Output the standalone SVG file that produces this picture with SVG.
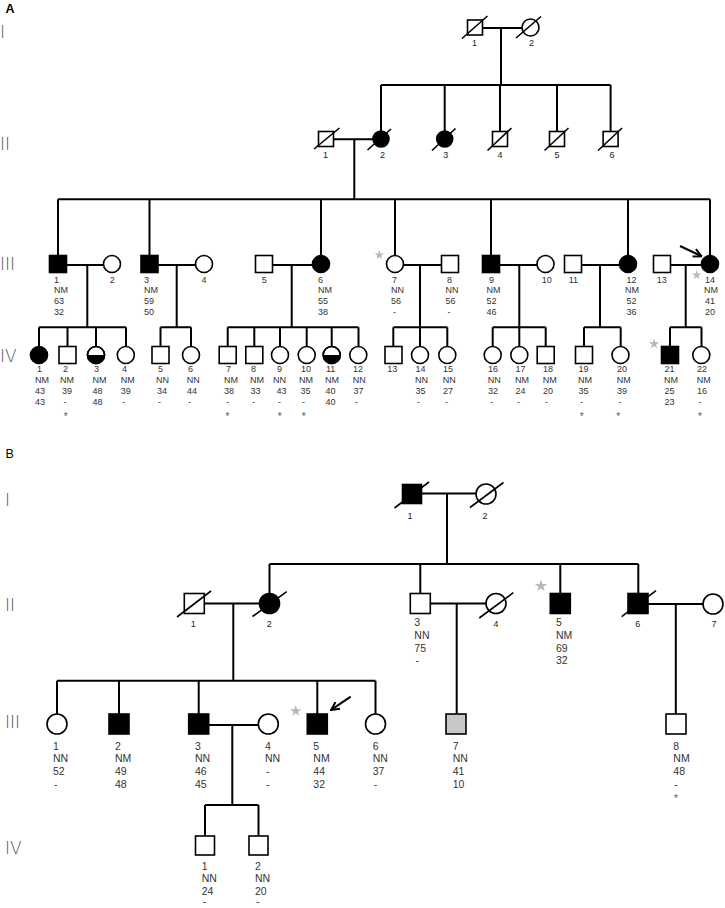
<svg xmlns="http://www.w3.org/2000/svg" width="725" height="908" viewBox="0 0 725 908">
<style>
.l{fill:none;stroke:#000;stroke-width:2}
.s{fill:#fff;stroke:#000;stroke-width:1.6}
.f{fill:#000;stroke:#000;stroke-width:1.6}
.o{fill:none;stroke:#000;stroke-width:1.6}
.g{fill:#c8c8c8;stroke:#000;stroke-width:1.6}
.d{stroke:#000;stroke-width:1.6}
.ta{font-family:"Liberation Sans",Arial,sans-serif;font-size:9px;fill:#333}
.tb{font-family:"Liberation Sans",Arial,sans-serif;font-size:10.5px;fill:#333}
.c{text-anchor:middle}
.tn{font-family:"Liberation Sans Narrow","Liberation Sans",Arial,sans-serif;font-size:9px;fill:#222;text-anchor:middle}
.rn{font-family:"DejaVu Sans",sans-serif;font-weight:200;font-size:17px;fill:#555}
.st{fill:#b8b8b8}
.as{font-family:"Liberation Sans",Arial,sans-serif;font-size:10px;fill:#555;text-anchor:middle}
.pl{font-family:"Liberation Sans",Arial,sans-serif;font-size:12.5px;fill:#000}
</style>
<defs>
<polygon id="star" points="0,-1 0.2245,-0.309 0.951,-0.309 0.363,0.118 0.588,0.809 0,0.382 -0.588,0.809 -0.363,0.118 -0.951,-0.309 -0.2245,-0.309"/>
<marker id="ah" viewBox="0 0 10 10" refX="8.5" refY="5" markerWidth="5" markerHeight="5" orient="auto" markerUnits="strokeWidth">
<path d="M1,1 L9,5 L1,9" fill="none" stroke="#000" stroke-width="2"/>
</marker>
</defs>
<rect width="725" height="908" fill="#fff"/>

<!-- panel labels and generation numerals -->
<g id="labels">
<text class="pl" x="5.5" y="12.5" font-weight="bold">A</text>
<text class="pl" x="5.5" y="458">B</text>
<text class="rn" x="0" y="37.5">I</text>
<text class="rn" x="0" y="150">II</text>
<text class="rn" x="0" y="270">III</text>
<text class="rn" x="0" y="362">IV</text>
<text class="rn" x="5" y="505.5">I</text>
<text class="rn" x="5" y="610.5">II</text>
<text class="rn" x="5" y="728">III</text>
<text class="rn" x="5" y="854">IV</text>
</g>

<g id="connectors" class="l">
<!-- Panel A -->
<path d="M482,28 H522 M501,28 V85 M381,85 H610.6 M381,85 V131 M444.7,85 V131 M500,85 V131.5 M557,85 V131.5 M610.6,85 V131.5"/>
<path d="M333.5,139.3 H373 M354.3,139.3 V199.3 M58,199.3 H710 M58,199.3 V255.5 M149.5,199.3 V255.5 M321,199.3 V255.5 M395,199.3 V255.5 M491,199.3 V255.5 M628,199.3 V255.5 M710,199.3 V255.5"/>
<path d="M66.5,265 H103.5 M87.3,265 V327.3 M158,265 H195.5 M176.7,265 V327.3 M272.5,265 H312.5 M291.7,265 V327.3 M403.5,265 H441.5 M420,265 V327.3 M499.5,265 H537 M519.3,265 V327.3 M581.5,265 H619.5 M600,265 V327.3 M670.5,265 H701.5 M685.7,265 V327.3"/>
<path d="M39,327.3 H126 M39,327.3 V346.5 M67.5,327.3 V346.5 M96,327.3 V346.5 M126,327.3 V346.5"/>
<path d="M160.5,327.3 H191 M160.5,327.3 V346.5 M191,327.3 V346.5"/>
<path d="M227.7,327.3 H358.5 M227.7,327.3 V346.5 M254.3,327.3 V346.5 M280,327.3 V346.5 M306.7,327.3 V346.5 M331.7,327.3 V346.5 M358.5,327.3 V346.5"/>
<path d="M393.3,327.3 H447.3 M393.3,327.3 V346.5 M420,327.3 V346.5 M447.3,327.3 V346.5"/>
<path d="M492.7,327.3 H545.7 M492.7,327.3 V346.5 M519.3,327.3 V346.5 M545.7,327.3 V346.5"/>
<path d="M584,327.3 H620.7 M584,327.3 V346.5 M620.7,327.3 V346.5"/>
<path d="M670,327.3 H701.5 M670,327.3 V346.5 M701.5,327.3 V346.5"/>
<path d="M680,246 L701,256" marker-end="url(#ah)"/>
<!-- Panel B -->
<path d="M421.5,493.5 H476 M447,493.5 V564 M269.5,564 H638.3 M269.5,564 V593.5 M420.3,564 V593.5 M560.3,564 V593.5 M638.3,564 V593.5"/>
<path d="M204.3,603.5 H259.5 M233.3,603.5 V680.7 M57,680.7 H375.5 M57,680.7 V714 M119,680.7 V714 M198.7,680.7 V714 M317.3,680.7 V714 M375.5,680.7 V714"/>
<path d="M430.3,603.5 H486 M456.7,603.5 V714 M648,604 H703 M675.8,604 V714"/>
<path d="M208.7,725 H258.3 M232.3,725 V805 M205,805 H258.5 M205,805 V836 M258.5,805 V836"/>
<path d="M350.7,696.7 L331.5,709.6" marker-end="url(#ah)"/>
</g>

<!-- Panel A generation I -->
<g id="A-I-1"><rect class="s" x="467.5" y="20" width="15" height="15"/><line class="d" x1="462" y1="38.5" x2="487.5" y2="16"/><text class="tn" x="474.5" y="45.5">1</text></g>
<g id="A-I-2"><circle class="s" cx="530.5" cy="27.5" r="8.5"/><line class="d" x1="516" y1="38" x2="541" y2="16.5"/><text class="tn" x="531.5" y="45.5">2</text></g>

<!-- Panel A generation II -->
<g id="A-II-1"><rect class="s" x="318.5" y="131.5" width="15" height="15"/><line class="d" x1="314" y1="149" x2="339.5" y2="128"/><text class="tn" x="325.6" y="158">1</text></g>
<g id="A-II-2"><circle class="f" cx="381" cy="139" r="8"/><line class="d" x1="367.5" y1="150" x2="391" y2="129"/><text class="tn" x="382.5" y="158">2</text></g>
<g id="A-II-3"><circle class="f" cx="444.7" cy="139" r="8"/><line class="d" x1="432" y1="150.5" x2="455.5" y2="128.5"/><text class="tn" x="445.7" y="158">3</text></g>
<g id="A-II-4"><rect class="s" x="492.5" y="131.5" width="15" height="15"/><line class="d" x1="487.5" y1="150.5" x2="511.5" y2="128"/><text class="tn" x="500" y="158">4</text></g>
<g id="A-II-5"><rect class="s" x="549.5" y="131.5" width="15" height="15"/><line class="d" x1="544.5" y1="150.5" x2="568.5" y2="128"/><text class="tn" x="557" y="158">5</text></g>
<g id="A-II-6"><rect class="s" x="603.1" y="131.5" width="15" height="15"/><line class="d" x1="598.1" y1="150.5" x2="622.1" y2="128"/><text class="tn" x="612" y="158">6</text></g>

<!-- Panel A generation III -->
<g id="A-III-1"><rect class="f" x="49.5" y="255.5" width="17" height="17"/><text class="ta"><tspan x="54" y="282.5">1</tspan><tspan x="54" y="293.3">NM</tspan><tspan x="54" y="304.1">63</tspan><tspan x="54" y="314.9">32</tspan></text></g>
<g id="A-III-2"><circle class="s" cx="112" cy="264" r="8.5"/><text class="ta c" x="112.3" y="282.5">2</text></g>
<g id="A-III-3"><rect class="f" x="141" y="255.5" width="17" height="17"/><text class="ta"><tspan x="144" y="282.5">3</tspan><tspan x="144" y="293.3">NM</tspan><tspan x="144" y="304.1">59</tspan><tspan x="144" y="314.9">50</tspan></text></g>
<g id="A-III-4"><circle class="s" cx="204" cy="264" r="8.5"/><text class="ta c" x="204" y="282.5">4</text></g>
<g id="A-III-5"><rect class="s" x="255.5" y="255.5" width="17" height="17"/><text class="ta c" x="264.3" y="282.5">5</text></g>
<g id="A-III-6"><circle class="f" cx="321" cy="264" r="8.5"/><text class="ta"><tspan x="318" y="282.5">6</tspan><tspan x="318" y="293.3">NM</tspan><tspan x="318" y="304.1">55</tspan><tspan x="318" y="314.9">38</tspan></text></g>
<g id="A-III-7"><use href="#star" class="st" transform="translate(379.3,255) scale(5)"/><circle class="s" cx="395" cy="264" r="8.5"/><text class="ta"><tspan x="392" y="282.5">7</tspan><tspan x="391" y="293.3">NN</tspan><tspan x="391" y="304.1">56</tspan><tspan x="393" y="314.9">-</tspan></text></g>
<g id="A-III-8"><rect class="s" x="441.5" y="255.5" width="17" height="17"/><text class="ta"><tspan x="447" y="282.5">8</tspan><tspan x="445.5" y="293.3">NN</tspan><tspan x="445.5" y="304.1">56</tspan><tspan x="447.5" y="314.9">-</tspan></text></g>
<g id="A-III-9"><rect class="f" x="482.5" y="255.5" width="17" height="17"/><text class="ta"><tspan x="489" y="282.5">9</tspan><tspan x="486.5" y="293.3">NM</tspan><tspan x="486.5" y="304.1">52</tspan><tspan x="486.5" y="314.9">46</tspan></text></g>
<g id="A-III-10"><circle class="s" cx="545.5" cy="264" r="8.5"/><text class="ta c" x="546.7" y="282.5">10</text></g>
<g id="A-III-11"><rect class="s" x="564.5" y="255.5" width="17" height="17"/><text class="ta c" x="573.3" y="282.5">11</text></g>
<g id="A-III-12"><circle class="f" cx="628" cy="264" r="8.5"/><text class="ta"><tspan x="626.5" y="282.5">12</tspan><tspan x="625" y="293.3">NM</tspan><tspan x="626.5" y="304.1">52</tspan><tspan x="626.5" y="314.9">36</tspan></text></g>
<g id="A-III-13"><rect class="s" x="653.5" y="255.5" width="17" height="17"/><text class="ta c" x="661.7" y="282.5">13</text></g>
<g id="A-III-14"><use href="#star" class="st" transform="translate(696.7,275) scale(5)"/><circle class="f" cx="710" cy="264" r="8.5"/><text class="ta"><tspan x="705" y="282.5">14</tspan><tspan x="704" y="293.3">NM</tspan><tspan x="705" y="304.1">41</tspan><tspan x="705" y="314.9">20</tspan></text></g>

<!-- Panel A generation IV -->
<g id="A-IV-1"><circle class="f" cx="39" cy="355" r="8.5"/><text class="ta"><tspan x="37" y="372.3">1</tspan><tspan x="35" y="383.2">NM</tspan><tspan x="35" y="394.1">43</tspan><tspan x="35" y="405">43</tspan></text></g>
<g id="A-IV-2"><rect class="s" x="59" y="346.5" width="17" height="17"/><text class="ta"><tspan x="63" y="372.3">2</tspan><tspan x="60" y="383.2">NM</tspan><tspan x="62" y="394.1">39</tspan><tspan x="63.5" y="405">-</tspan></text><text class="as" x="65.7" y="420">*</text></g>
<g id="A-IV-3"><circle class="s" cx="96" cy="355" r="8.5"/><path d="M87.5,355 A8.5,8.5 0 0 0 104.5,355 Z" fill="#000"/><circle class="o" cx="96" cy="355" r="8.5"/><text class="ta"><tspan x="94" y="372.3">3</tspan><tspan x="92.5" y="383.2">NM</tspan><tspan x="92.5" y="394.1">48</tspan><tspan x="92.5" y="405">48</tspan></text></g>
<g id="A-IV-4"><circle class="s" cx="125.8" cy="355" r="8.5"/><text class="ta"><tspan x="122" y="372.3">4</tspan><tspan x="120.7" y="383.2">NM</tspan><tspan x="120.7" y="394.1">39</tspan><tspan x="122" y="405">-</tspan></text></g>
<g id="A-IV-5"><rect class="s" x="152" y="346.5" width="17" height="17"/><text class="ta"><tspan x="158" y="372.3">5</tspan><tspan x="156" y="383.2">NN</tspan><tspan x="157" y="394.1">34</tspan><tspan x="158" y="405">-</tspan></text></g>
<g id="A-IV-6"><circle class="s" cx="191" cy="355" r="8.5"/><text class="ta"><tspan x="188" y="372.3">6</tspan><tspan x="186.7" y="383.2">NN</tspan><tspan x="187" y="394.1">44</tspan><tspan x="188" y="405">-</tspan></text></g>
<g id="A-IV-7"><rect class="s" x="219.2" y="346.5" width="17" height="17"/><text class="ta"><tspan x="226" y="372.3">7</tspan><tspan x="224" y="383.2">NM</tspan><tspan x="224" y="394.1">38</tspan><tspan x="226" y="405">-</tspan></text><text class="as" x="227.5" y="420">*</text></g>
<g id="A-IV-8"><rect class="s" x="245.8" y="346.5" width="17" height="17"/><text class="ta"><tspan x="251" y="372.3">8</tspan><tspan x="250" y="383.2">NM</tspan><tspan x="250.5" y="394.1">33</tspan><tspan x="252" y="405">-</tspan></text></g>
<g id="A-IV-9"><circle class="s" cx="280" cy="355" r="8.5"/><text class="ta"><tspan x="277" y="372.3">9</tspan><tspan x="273" y="383.2">NN</tspan><tspan x="276.5" y="394.1">43</tspan><tspan x="278" y="405">-</tspan></text><text class="as" x="279.7" y="420">*</text></g>
<g id="A-IV-10"><circle class="s" cx="306.7" cy="355" r="8.5"/><text class="ta"><tspan x="301" y="372.3">10</tspan><tspan x="299" y="383.2">NM</tspan><tspan x="300.5" y="394.1">35</tspan><tspan x="302" y="405">-</tspan></text><text class="as" x="303.7" y="420">*</text></g>
<g id="A-IV-11"><circle class="s" cx="331.7" cy="355" r="8.5"/><path d="M323.2,355 A8.5,8.5 0 0 0 340.2,355 Z" fill="#000"/><circle class="o" cx="331.7" cy="355" r="8.5"/><text class="ta"><tspan x="326" y="372.3">11</tspan><tspan x="325" y="383.2">NM</tspan><tspan x="325.5" y="394.1">40</tspan><tspan x="325.5" y="405">40</tspan></text></g>
<g id="A-IV-12"><circle class="s" cx="358.3" cy="355" r="8.5"/><text class="ta"><tspan x="353" y="372.3">12</tspan><tspan x="352.7" y="383.2">NN</tspan><tspan x="353.5" y="394.1">37</tspan><tspan x="355" y="405">-</tspan></text></g>
<g id="A-IV-13"><rect class="s" x="385" y="346.5" width="17" height="17"/><text class="ta c" x="392.3" y="372.3">13</text></g>
<g id="A-IV-14"><circle class="s" cx="420" cy="355" r="8.5"/><text class="ta"><tspan x="415.5" y="372.3">14</tspan><tspan x="415" y="383.2">NN</tspan><tspan x="415.5" y="394.1">35</tspan><tspan x="417" y="405">-</tspan></text></g>
<g id="A-IV-15"><circle class="s" cx="447.3" cy="355" r="8.5"/><text class="ta"><tspan x="443" y="372.3">15</tspan><tspan x="442.7" y="383.2">NN</tspan><tspan x="443" y="394.1">27</tspan><tspan x="445" y="405">-</tspan></text></g>
<g id="A-IV-16"><circle class="s" cx="492.7" cy="355" r="8.5"/><text class="ta"><tspan x="488" y="372.3">16</tspan><tspan x="487.7" y="383.2">NN</tspan><tspan x="488" y="394.1">32</tspan><tspan x="490" y="405">-</tspan></text></g>
<g id="A-IV-17"><circle class="s" cx="519.3" cy="355" r="8.5"/><text class="ta"><tspan x="515.5" y="372.3">17</tspan><tspan x="515" y="383.2">NM</tspan><tspan x="515.5" y="394.1">24</tspan><tspan x="517" y="405">-</tspan></text></g>
<g id="A-IV-18"><rect class="s" x="537.2" y="346.5" width="17" height="17"/><text class="ta"><tspan x="543" y="372.3">18</tspan><tspan x="542.7" y="383.2">NM</tspan><tspan x="543" y="394.1">20</tspan><tspan x="545" y="405">-</tspan></text></g>
<g id="A-IV-19"><rect class="s" x="575.5" y="346.5" width="17" height="17"/><text class="ta"><tspan x="578.5" y="372.3">19</tspan><tspan x="578" y="383.2">NM</tspan><tspan x="578.5" y="394.1">35</tspan><tspan x="580" y="405">-</tspan></text><text class="as" x="581.7" y="420">*</text></g>
<g id="A-IV-20"><circle class="s" cx="620.5" cy="355" r="8.5"/><text class="ta"><tspan x="617" y="372.3">20</tspan><tspan x="616.7" y="383.2">NM</tspan><tspan x="617" y="394.1">39</tspan><tspan x="618.5" y="405">-</tspan></text><text class="as" x="618.3" y="420">*</text></g>
<g id="A-IV-21"><use href="#star" class="st" transform="translate(654,344) scale(5.5)"/><rect class="f" x="661.5" y="346.5" width="17" height="17"/><text class="ta"><tspan x="664.5" y="372.3">21</tspan><tspan x="664" y="383.2">NM</tspan><tspan x="664.5" y="394.1">25</tspan><tspan x="664.5" y="405">23</tspan></text></g>
<g id="A-IV-22"><circle class="s" cx="701.3" cy="355" r="8.5"/><text class="ta"><tspan x="697" y="372.3">22</tspan><tspan x="696.7" y="383.2">NM</tspan><tspan x="697" y="394.1">16</tspan><tspan x="698.5" y="405">-</tspan></text><text class="as" x="700" y="420">*</text></g>

<!-- Panel B generation I -->
<g id="B-I-1"><rect class="f" x="402.5" y="484.5" width="19" height="19"/><line class="d" x1="394.5" y1="508" x2="429" y2="482"/><text class="tn" x="410" y="518.5">1</text></g>
<g id="B-I-2"><circle class="s" cx="486" cy="494" r="10"/><line class="d" x1="470" y1="507.5" x2="503.5" y2="482.5"/><text class="tn" x="485" y="518.5">2</text></g>

<!-- Panel B generation II -->
<g id="B-II-1"><rect class="s" x="184.3" y="593.5" width="20" height="20"/><line class="d" x1="177" y1="617" x2="211" y2="591"/><text class="tn" x="193.3" y="626.5">1</text></g>
<g id="B-II-2"><circle class="f" cx="269.5" cy="603.5" r="10"/><line class="d" x1="252.5" y1="616.5" x2="286.7" y2="591.7"/><text class="tn" x="269.3" y="626.5">2</text></g>
<g id="B-II-3"><rect class="s" x="410.3" y="593.5" width="20" height="20"/><text class="tb"><tspan x="414.3" y="626">3</tspan><tspan x="414.3" y="638.8">NN</tspan><tspan x="414.3" y="651.6">75</tspan><tspan x="415.5" y="664.4">-</tspan></text></g>
<g id="B-II-4"><circle class="s" cx="496" cy="603.5" r="10"/><line class="d" x1="479.3" y1="618" x2="513.3" y2="592.7"/><text class="tn" x="496" y="626.5">4</text></g>
<g id="B-II-5"><use href="#star" class="st" transform="translate(541,586) scale(6.5)"/><rect class="f" x="550.3" y="593.5" width="20" height="20"/><text class="tb"><tspan x="556" y="626">5</tspan><tspan x="556" y="638.8">NM</tspan><tspan x="556" y="651.6">69</tspan><tspan x="556" y="664.4">32</tspan></text></g>
<g id="B-II-6"><rect class="f" x="628" y="593.5" width="20" height="20"/><line class="d" x1="621.7" y1="616.7" x2="656" y2="590.7"/><text class="tn" x="637.7" y="626.5">6</text></g>
<g id="B-II-7"><circle class="s" cx="713" cy="604" r="10"/><text class="tn" x="714" y="626.5">7</text></g>

<!-- Panel B generation III -->
<g id="B-III-1"><circle class="s" cx="57" cy="724" r="10"/><text class="tb"><tspan x="53" y="749.5">1</tspan><tspan x="53" y="762.3">NN</tspan><tspan x="53" y="775.1">52</tspan><tspan x="54" y="787.9">-</tspan></text></g>
<g id="B-III-2"><rect class="f" x="109" y="714" width="20" height="20"/><text class="tb"><tspan x="115" y="749.5">2</tspan><tspan x="115" y="762.3">NM</tspan><tspan x="115" y="775.1">49</tspan><tspan x="115" y="787.9">48</tspan></text></g>
<g id="B-III-3"><rect class="f" x="188.7" y="714" width="20" height="20"/><text class="tb"><tspan x="195" y="749.5">3</tspan><tspan x="195" y="762.3">NN</tspan><tspan x="195" y="775.1">46</tspan><tspan x="195" y="787.9">45</tspan></text></g>
<g id="B-III-4"><circle class="s" cx="268.3" cy="724" r="10"/><text class="tb"><tspan x="265" y="749.5">4</tspan><tspan x="265" y="762.3">NN</tspan><tspan x="266" y="775.1">-</tspan><tspan x="266" y="787.9">-</tspan></text></g>
<g id="B-III-5"><use href="#star" class="st" transform="translate(295.7,711) scale(6)"/><rect class="f" x="307.3" y="714" width="20" height="20"/><text class="tb"><tspan x="313.3" y="749.5">5</tspan><tspan x="313.3" y="762.3">NM</tspan><tspan x="313.3" y="775.1">44</tspan><tspan x="313.3" y="787.9">32</tspan></text></g>
<g id="B-III-6"><circle class="s" cx="375.5" cy="724" r="10"/><text class="tb"><tspan x="372.7" y="749.5">6</tspan><tspan x="372.7" y="762.3">NN</tspan><tspan x="372.7" y="775.1">37</tspan><tspan x="373.7" y="787.9">-</tspan></text></g>
<g id="B-III-7"><rect class="g" x="446" y="714" width="20" height="20"/><text class="tb"><tspan x="452.7" y="749.5">7</tspan><tspan x="452.7" y="762.3">NN</tspan><tspan x="452.7" y="775.1">41</tspan><tspan x="452.7" y="787.9">10</tspan></text></g>
<g id="B-III-8"><rect class="s" x="666" y="714" width="20" height="20"/><text class="tb"><tspan x="673.3" y="749.5">8</tspan><tspan x="673.3" y="762.3">NM</tspan><tspan x="673.3" y="775.1">48</tspan><tspan x="674.3" y="787.9">-</tspan></text><text class="as" x="676" y="801.5" font-size="11">*</text></g>

<!-- Panel B generation IV -->
<g id="B-IV-1"><rect class="s" x="195.5" y="836" width="19" height="19"/><text class="tb"><tspan x="201.7" y="869.5">1</tspan><tspan x="201.7" y="882">NN</tspan><tspan x="201.7" y="894.5">24</tspan><tspan x="202.7" y="905">-</tspan></text></g>
<g id="B-IV-2"><rect class="s" x="249" y="836" width="19" height="19"/><text class="tb"><tspan x="255" y="869.5">2</tspan><tspan x="255" y="882">NN</tspan><tspan x="255" y="894.5">20</tspan><tspan x="256" y="905">-</tspan></text></g>
</svg>
